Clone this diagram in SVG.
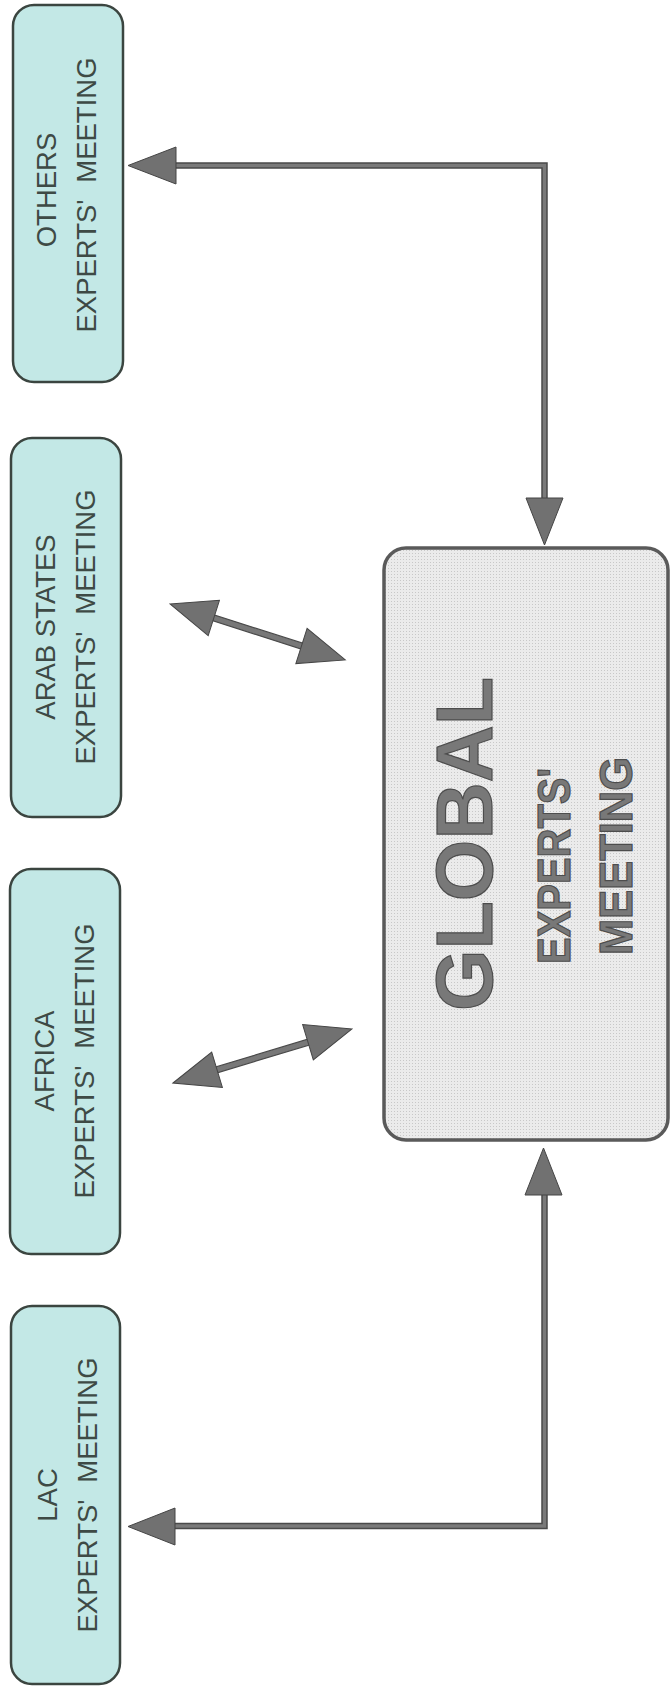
<svg xmlns="http://www.w3.org/2000/svg" width="670" height="1687" viewBox="0 0 670 1687">
  <defs>
    <!-- halftone grain for the central box -->
    <pattern id="grain" width="3" height="3" patternUnits="userSpaceOnUse">
      <rect width="3" height="3" fill="#ebebeb"/>
      <rect x="1" y="1" width="1" height="1" fill="#c8c8c8"/>
    </pattern>
    <style>
      .region rect { fill: #c3e8e6; stroke: #3b4540; stroke-width: 2.5; }
      .region text { font-family: "Liberation Sans", Arial, sans-serif; font-size: 27.5px; fill: #3e4a45; text-anchor: middle; }
      .region text.sub { word-spacing: 9px; }
      .global rect { fill: url(#grain); stroke: #5a5a5a; stroke-width: 3.5; }
      .global text { font-family: "Liberation Sans", Arial, sans-serif; font-weight: bold; fill: #787878; stroke: #4d4d4d; stroke-width: 1.2; text-anchor: middle; }
      .wire-out { fill: none; stroke: #4a4a4a; stroke-width: 6.5; }
      .wire-in { fill: none; stroke: #7a7a7a; stroke-width: 3.5; }
      .head { fill: #717171; stroke: #454545; stroke-width: 1; stroke-linejoin: miter; }
      .shaft { fill: #787878; stroke: #4a4a4a; stroke-width: 1.2; }
    </style>
  </defs>

  <rect width="670" height="1687" fill="#ffffff"/>

  <!-- regional meetings -->
  <g id="others" class="region">
    <rect x="13" y="5" width="110" height="377" rx="21"/>
    <text transform="translate(56,190) rotate(-90)">OTHERS</text>
    <text class="sub" transform="translate(96,195) rotate(-90)">EXPERTS' MEETING</text>
  </g>
  <g id="arab-states" class="region">
    <rect x="11" y="438" width="110" height="379" rx="21"/>
    <text transform="translate(55,627) rotate(-90)">ARAB STATES</text>
    <text class="sub" transform="translate(95,627) rotate(-90)">EXPERTS' MEETING</text>
  </g>
  <g id="africa" class="region">
    <rect x="10" y="869" width="110" height="385" rx="21"/>
    <text transform="translate(54,1061) rotate(-90)">AFRICA</text>
    <text class="sub" transform="translate(94,1061) rotate(-90)">EXPERTS' MEETING</text>
  </g>
  <g id="lac" class="region">
    <rect x="11" y="1306" width="109" height="378" rx="21"/>
    <text transform="translate(57,1495) rotate(-90)">LAC</text>
    <text class="sub" transform="translate(97,1495) rotate(-90)">EXPERTS' MEETING</text>
  </g>

  <!-- global meeting -->
  <g id="global" class="global">
    <rect x="384" y="548" width="284" height="592" rx="22"/>
    <text transform="translate(492,844) rotate(-90)" font-size="80" textLength="334" lengthAdjust="spacingAndGlyphs">GLOBAL</text>
    <text transform="translate(570,866) rotate(-90)" font-size="47" textLength="196" lengthAdjust="spacingAndGlyphs">EXPERTS'</text>
    <text transform="translate(632,856) rotate(-90)" font-size="47" textLength="198" lengthAdjust="spacingAndGlyphs">MEETING</text>
  </g>

  <!-- connectors -->
  <g id="connectors">
    <!-- others <-> global -->
    <path class="wire-out" d="M172,165.5 H544.5 V500"/>
    <path class="wire-in" d="M172,165.5 H544.5 V500"/>
    <polygon class="head" points="128,165.5 176,147 176,184"/>
    <polygon class="head" points="544.5,545 526,498 563,498"/>

    <!-- lac <-> global -->
    <path class="wire-out" d="M544.5,1192 V1526 H172"/>
    <path class="wire-in" d="M544.5,1192 V1526 H172"/>
    <polygon class="head" points="543.5,1148 525,1195 562,1195"/>
    <polygon class="head" points="128,1526.5 175,1508 175,1545"/>

    <!-- arab states <-> global -->
    <g transform="translate(170,604) rotate(17.7)">
      <rect class="shaft" x="44" y="-3" width="96" height="6"/>
      <polygon class="head" points="0,0 46,-18.5 46,18.5"/>
      <polygon class="head" points="184,0 138,-18.5 138,18.5"/>
    </g>

    <!-- africa <-> global -->
    <g transform="translate(173,1083) rotate(-16.8)">
      <rect class="shaft" x="44" y="-3" width="99" height="6"/>
      <polygon class="head" points="0,0 46,-18.5 46,18.5"/>
      <polygon class="head" points="187,0 141,-18.5 141,18.5"/>
    </g>
  </g>
</svg>
